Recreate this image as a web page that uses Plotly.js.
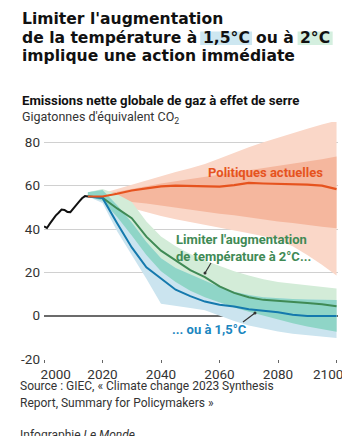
<!DOCTYPE html>
<html><head><meta charset="utf-8">
<script src="https://cdn.plot.ly/plotly-3.0.1.min.js"></script>
<style>html,body{margin:0;padding:0;background:#fff}#c{width:342px;height:436px}</style>
</head><body><div id="c"></div>
<script>
// ---- data ----
const histYears = [2000,2001,2002,2003,2004,2005,2006,2007,2008,2009,2010,2011,2012,2013,2014,2015];
const histVals  = [41.2,40.5,42.5,44.5,46.2,47.5,49,48.8,47.9,47.8,49.6,51,52.6,54.2,55.2,55];
const projYears = [2015,2020,2025,2030,2035,2040,2045,2050,2055,2060,2065,2070,2075,2080,2085,2090,2095,2100];
const curMed    = [55,55,56.3,57.8,58.8,59.7,60,59.9,59.8,59.6,60.3,61.3,61,60.9,60.8,60.5,60,58.4];
const curOutHi  = [55,56.5,58.5,60.5,62.5,64.5,66.3,68,70,72.5,75.3,77.8,80,82.2,84.3,86.3,88.2,90];
const curOutLo  = [55,53,51.3,49.5,47.8,46,44.5,43,41.8,40.5,39.3,38,36.7,35,32,28,23.5,18.5];
const curInHi   = [55,56,57.2,58.5,59.8,61,62,63,64,65,66,67,68,69,70,71,72.2,73.5];
const curInLo   = [55,54.2,53.3,52.5,51.8,51,50,49,48,47,46.3,45.5,44.5,43.5,42.8,42,41,40.3];
const c2Med     = [55,54.5,49.5,45,36.5,30,25.5,21,17.8,13.5,10.5,8.5,7.3,6.7,6.2,5.8,5.3,4.3];
const c2Hi      = [57,58.5,56,52.5,43.5,36.5,32,28.5,25.5,23,20.5,18.5,16.8,15.5,14.8,14.2,13.4,12.6];
const c2Lo      = [55,53,45.5,37,28,20.5,15.5,11.5,8.5,6,3.8,1.8,0,-1.8,-3.5,-5,-6.3,-7.4];
const c15Med    = [55,54.3,42.7,31.5,22.3,17,12,9,6.5,5,4.2,3,2.4,1.6,0.4,-0.1,-0.1,-0.2];
const c15Hi     = [57,58,51,43,34,26.5,22,19,16.3,13.2,11,9.5,8.5,8,7.7,7.5,7.3,7.2];
const c15Lo     = [55,52,39,28,17,5.5,4.5,3.5,2.5,0,-2.5,-4.5,-6,-7.3,-8.3,-9,-9.7,-10.3];
const xTickVals = [2000,2020,2040,2060,2080,2100];
const xTickText = ['2000','2020','2040','2060','2080','2100'];
const yTickVals = [-20,0,20,40,60,80];
const yTickText = ['-20','0','20','40','60','80'];

// ---- helpers ----
const W=342,H=436,L=44,R=4,T=122,B=77;
const pw=W-L-R, ph=H-T-B;
const PX=x=>(x-L)/pw, PY=y=>(H-B-y)/ph;
function band(lo,hi,color){
  return {x:projYears.concat(projYears.slice().reverse()), y:hi.concat(lo.slice().reverse()),
    fill:'toself', fillcolor:color, line:{width:0}, mode:'lines', hoverinfo:'skip', showlegend:false};
}
const ovHi = c2Hi.map((v,i)=>Math.min(v,c15Hi[i]));
const ovLo = c2Lo.map((v,i)=>Math.max(v,c15Lo[i]));

const traces = [
  band(curOutLo,curOutHi,'#fad7c8'),
  band(curInLo,curInHi,'#f5b79e'),
  band(c2Lo,c2Hi,'#d3ecd8'),
  band(c15Lo,c15Hi,'#cbe4ef'),
  band(ovLo,ovHi,'#8fd5c7'),
  {x:projYears,y:c2Med,mode:'lines',line:{color:'#3f8a55',width:2},showlegend:false},
  {x:projYears,y:c15Med,mode:'lines',line:{color:'#1479ad',width:2},showlegend:false},
  {x:projYears,y:curMed,mode:'lines',line:{color:'#e6531e',width:2.2},showlegend:false},
  {x:histYears,y:histVals,mode:'lines',line:{color:'#111',width:2},showlegend:false}
];

const F='Roboto, "Liberation Sans", sans-serif';
const TF='"DejaVu Sans", sans-serif';
const ctx=document.createElement('canvas').getContext('2d');
function mw(s,size){ctx.font='bold '+size+'px "DejaVu Sans"';return ctx.measureText(s).width;}
let ts=16*273/mw('implique une action immédiate',16);
if(!(ts>12&&ts<20)) ts=16;

function txt(text,x,y,opt){
  opt=opt||{};
  return {xref:'paper',yref:'paper',x:PX(x),y:PY(y),text:text,showarrow:false,
    xanchor:opt.xanchor||'left',yanchor:'middle',align:opt.align||'left',borderpad:0,borderwidth:0,
    font:{family:opt.family||F,size:opt.size||12,color:opt.color||'#222',weight:opt.weight||400}};
}
const tf={size:ts,weight:700,color:'#111',family:TF};
const sp=mw(' ',ts);
let cx=22;
const s1x=cx; cx+=mw('de la température à',ts)+sp;
const b1x0=cx-2.5, h1x=cx; cx+=mw('1,5°C',ts); const b1x1=cx+2.5; cx+=sp+1;
const s2x=cx; cx+=mw('ou à',ts)+sp+1;
const b2x0=cx-2.5, h2x=cx; cx+=mw('2°C',ts); const b2x1=cx+2.5;

const annotations=[
  txt("Limiter l'augmentation",22,19,tf),
  txt("de la température à",s1x,38,tf),
  txt("1,5°C",h1x,38,tf),
  txt("ou à",s2x,38,tf),
  txt("2°C",h2x,38,tf),
  txt("implique une action immédiate",22,56,tf),
  txt("Emissions nette globale de gaz à effet de serre",22,100,{size:13.2,weight:700,color:'#111'}),
  txt("Gigatonnes d'équivalent CO<sub>2</sub>",22,117,{size:12.5,color:'#333'}),
  txt("Source : GIEC, « Climate change 2023 Synthesis",20,386,{size:12,color:'#333'}),
  txt("Report, Summary for Policymakers »",20,403,{size:12,color:'#333'}),
  txt("Infographie <i>Le Monde</i>",20,435,{size:12,color:'#333'}),
  txt("Politiques actuelles",265,172,{xanchor:'center',size:13,weight:700,color:'#e6531e'}),
  txt("Limiter l'augmentation<br>de température à 2°C...",176,247.5,{size:13,weight:700,color:'#3f8a55'}),
  txt("... ou à 1,5°C",172,329,{size:13,weight:700,color:'#1a86c0'})
];
const shapes=[
  {type:'rect',xref:'paper',yref:'paper',x0:PX(b1x0),x1:PX(b1x1),y0:PY(45),y1:PY(31.5),fillcolor:'#cde7f1',line:{width:0},layer:'below'},
  {type:'rect',xref:'paper',yref:'paper',x0:PX(b2x0),x1:PX(b2x1),y0:PY(45),y1:PY(31.5),fillcolor:'#d4efdf',line:{width:0},layer:'below'},
  {type:'line',xref:'paper',yref:'paper',x0:PX(211),y0:PY(263),x1:PX(205),y1:PY(273),line:{color:'#333',width:1.2},layer:'above'},
  {type:'circle',xref:'paper',yref:'paper',x0:PX(203.5),x1:PX(206.5),y0:PY(274.5),y1:PY(271.5),fillcolor:'#333',line:{width:0},layer:'above'},
  {type:'line',xref:'paper',yref:'paper',x0:PX(243),y0:PY(322),x1:PX(255),y1:PY(313),line:{color:'#333',width:1.2},layer:'above'},
  {type:'circle',xref:'paper',yref:'paper',x0:PX(253.5),x1:PX(256.5),y0:PY(314.5),y1:PY(311.5),fillcolor:'#333',line:{width:0},layer:'above'}
];

const layout={
  width:W,height:H,margin:{l:L,r:R,t:T,b:B},paper_bgcolor:'#fff',plot_bgcolor:'#fff',
  showlegend:false,
  xaxis:{range:[2000,2100.5],tickmode:'array',tickvals:xTickVals,
    ticktext:xTickText.map((t,i)=>i===0?'\u00a0'.repeat(7)+t:(i===xTickText.length-1?t+'\u00a0'.repeat(5):t)),
    ticklabeloverflow:'allow',ticklabelstandoff:0,
    showgrid:false,zeroline:false,showline:false,ticks:'outside',ticklen:3,tickcolor:'#666',tickwidth:1,
    tickfont:{family:F,size:13.5,color:'#333'},fixedrange:true},
  yaxis:{range:[-20,89.4],tickmode:'array',tickvals:yTickVals,ticktext:yTickText,
    showgrid:true,gridcolor:'#d0d0d0',gridwidth:1,zeroline:true,zerolinecolor:'#6b6b6b',zerolinewidth:2,
    showline:false,ticks:'',ticklabelstandoff:3,tickfont:{family:F,size:13.5,color:'#333'},fixedrange:true},
  annotations:annotations,shapes:shapes
};
Plotly.newPlot('c',traces,layout,{staticPlot:true,displayModeBar:false});
</script></body></html>
